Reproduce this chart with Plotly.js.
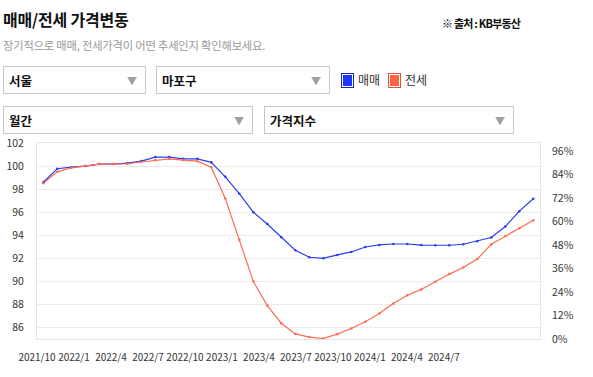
<!DOCTYPE html>
<html>
<head>
<meta charset="utf-8">
<script src="https://cdn.plot.ly/plotly-3.0.1.min.js"></script>
<style>
  html, body { margin:0; padding:0; background:#fff; }
  body { width:593px; height:377px; position:relative; overflow:hidden; font-family:"Noto Sans CJK KR","Noto Sans",sans-serif; }
  #chart { position:absolute; left:0; top:0; width:593px; height:377px; z-index:1; }
  .abs { position:absolute; z-index:2; white-space:nowrap; }
  #title { left:3px; top:7px; font-size:16px; font-weight:bold; color:#111; line-height:24px; letter-spacing:-0.2px; }
  #source { left:442px; top:15px; font-size:11px; font-weight:bold; color:#111; line-height:16px; letter-spacing:-0.8px; }
  #sub { left:3px; top:37px; font-size:11.3px; color:#999; line-height:16px; letter-spacing:-0.2px; }
  .dd { position:absolute; z-index:2; box-sizing:border-box; border:1px solid #c6c6c6; background:#fff; font-size:12.5px; font-weight:bold; color:#111; }
  .dd span.t { position:absolute; left:5px; top:50%; transform:translateY(-50%); }
  .dd span.a { position:absolute; right:8px; top:50%; transform:translateY(-50%); color:#a0a0a0; font-size:10px; font-weight:normal; }
  .leg { position:absolute; z-index:2; box-sizing:border-box; width:13px; height:15px; }
  .legt { position:absolute; z-index:2; font-size:12px; color:#333; line-height:16px; }
</style>
</head>
<body>
<div id="title" class="abs">매매/전세 가격변동</div>
<div id="source" class="abs">※ 출처 : KB부동산</div>
<div id="sub" class="abs">장기적으로 매매, 전세가격이 어떤 추세인지 확인해보세요.</div>

<div class="dd" style="left:3px;top:66px;width:143px;height:28px;"><span class="t">서울</span><span class="a">▼</span></div>
<div class="dd" style="left:156px;top:66px;width:174px;height:28px;"><span class="t">마포구</span><span class="a">▼</span></div>
<div class="leg" style="left:341px;top:73px;background:#1f35ff;border:1px solid #1428c0;box-shadow:inset 0 0 0 1px #fff;"></div>
<div class="legt" style="left:358px;top:72px;">매매</div>
<div class="leg" style="left:388px;top:73px;background:#ff6347;border:1px solid #e0553a;box-shadow:inset 0 0 0 1px #fff;"></div>
<div class="legt" style="left:405px;top:72px;">전세</div>

<div class="dd" style="left:3px;top:106px;width:250px;height:28px;"><span class="t">월간</span><span class="a">▼</span></div>
<div class="dd" style="left:264px;top:106px;width:250px;height:28px;"><span class="t">가격지수</span><span class="a">▼</span></div>

<div id="chart"></div>
<script>
const months = ['2021/10','2021/11','2021/12','2022/1','2022/2','2022/3','2022/4','2022/5','2022/6','2022/7','2022/8','2022/9',
  '2022/10','2022/11','2022/12','2023/1','2023/2','2023/3','2023/4','2023/5','2023/6','2023/7','2023/8','2023/9',
  '2023/10','2023/11','2023/12','2024/1','2024/2','2024/3','2024/4','2024/5','2024/6','2024/7','2024/8','2024/9'];
const saleIndex = [98.6, 99.77, 99.9, 100.0, 100.17, 100.17, 100.26, 100.43, 100.78, 100.78, 100.63, 100.63,
  100.32, 99.07, 97.6, 96.0, 94.98, 93.83, 92.7, 92.09, 92.0, 92.29, 92.55, 92.98,
  93.16, 93.24, 93.24, 93.15, 93.13, 93.13, 93.22, 93.48, 93.8, 94.75, 96.09, 97.16];
const jeonseIndex = [98.5, 99.5, 99.85, 100.0, 100.17, 100.17, 100.2, 100.35, 100.52, 100.63, 100.52, 100.43,
  99.9, 97.19, 93.6, 90.0, 87.9, 86.37, 85.44, 85.17, 85.04, 85.42, 85.91, 86.49,
  87.21, 88.08, 88.8, 89.3, 89.97, 90.63, 91.2, 91.94, 93.22, 93.94, 94.6, 95.3];
const tickLabels = ['2021/10','2022/1','2022/4','2022/7','2022/10','2023/1','2023/4','2023/7','2023/10','2024/1','2024/4','2024/7'];

const tickFont = {family:'"Noto Sans CJK KR","Noto Sans",sans-serif', size:10.5, color:'#333'};
const xTickFont = {family:'"Noto Sans CJK KR","Noto Sans",sans-serif', size:10, color:'#333'};

const traces = [
  {x: months, y: saleIndex, name:'매매', type:'scatter', mode:'lines+markers',
   line:{color:'#2a3cf2', width:1.2}, marker:{size:2.5, color:'#2a3cf2'}, hoverinfo:'skip'},
  {x: months, y: jeonseIndex, name:'전세', type:'scatter', mode:'lines+markers',
   line:{color:'#ff6b4f', width:1.2}, marker:{size:2.5, color:'#ff6b4f'}, hoverinfo:'skip'},
  {x: tickLabels, y: tickLabels.map(() => null), xaxis:'x2', yaxis:'y2', type:'scatter', mode:'lines',
   showlegend:false, hoverinfo:'skip'}
];

const layout = {
  width:593, height:377, autosize:false,
  margin:{l:37, r:53, t:143, b:38, pad:0},
  paper_bgcolor:'rgba(0,0,0,0)', plot_bgcolor:'rgba(0,0,0,0)',
  showlegend:false,
  xaxis:{type:'category', range:[-0.45, 35.48], showticklabels:false, showgrid:false, zeroline:false,
         showline:true, mirror:true, linecolor:'#e6e6e6', linewidth:1, ticks:'', fixedrange:true},
  xaxis2:{type:'category', overlaying:'x', anchor:'y', side:'bottom', range:[0, 13.6], tickangle:0,
          showgrid:false, showline:false, zeroline:false, ticks:'', tickfont:xTickFont, ticklabelstandoff:11, fixedrange:true},
  yaxis:{range:[85, 102], tick0:0, dtick:2, showgrid:true, gridcolor:'#ebebeb', gridwidth:1, zeroline:false,
         showline:true, mirror:true, linecolor:'#e6e6e6', ticks:'', tickfont:tickFont, ticklabelstandoff:10, fixedrange:true},
  yaxis2:{overlaying:'y', side:'right', anchor:'x', range:[0, 100], tick0:0, dtick:12, ticksuffix:'%',
          showgrid:false, showline:false, zeroline:false, ticks:'', tickfont:tickFont, ticklabelstandoff:11, fixedrange:true}
};

Plotly.newPlot('chart', traces, layout, {displayModeBar:false, staticPlot:true});
</script>
</body>
</html>
